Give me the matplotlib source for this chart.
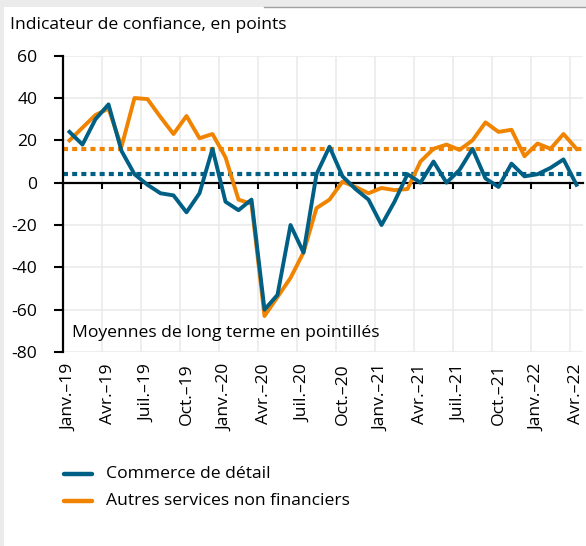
import matplotlib
matplotlib.use('Agg')
import matplotlib.pyplot as plt
import matplotlib.patches as mpatches
import matplotlib.transforms as mtransforms
import numpy as np

plt.rcParams['font.family'] = ['Open Sans', 'DejaVu Sans']
plt.rcParams['axes.unicode_minus'] = False

# Monthly values, Jan 2019 -> Apr 2022
commerce = [24, 18, 30, 37, 15, 4, -1, -5, -6, -14,
            -5, 16, -9, -13, -8, -60, -53, -20, -33, 4,
            17, 3, -3, -8, -20, -9, 4, 0, 10, 0,
            6, 16, 2, -2, 9, 3, 4, 7, 11, -1]
services = [20, 26, 32, 35, 17, 40, 39.5, 31, 23, 31.5,
            21, 23, 12, -8, -10, -63, -54, -45, -33, -12,
            -8, 0.5, -2, -5, -2.5, -3.5, -3, 10, 16, 18,
            15.5, 20, 28.5, 24, 25, 12.5, 18.5, 16, 23, 16]
mean_commerce = 4
mean_services = 16

tick_labels = ['Janv.–19', 'Avr.–19', 'Juil.–19', 'Oct.–19',
               'Janv.–20', 'Avr.–20', 'Juil.–20', 'Oct.–20',
               'Janv.–21', 'Avr.–21', 'Juil.–21', 'Oct.–21',
               'Janv.–22', 'Avr.–22']
series_names = ['Commerce de détail', 'Autres services non financiers']

BLUE = '#005f85'
ORANGE = '#f08300'
FS = 12.6

fig = plt.figure(figsize=(5.86, 5.46), dpi=100, facecolor='#ebebeb')
# white page with grey frame on top/left
fig.patches.append(mpatches.Rectangle((4 / 586, 0), 1, 1 - 7 / 546,
                                      transform=fig.transFigure,
                                      facecolor='white', edgecolor='none', zorder=-5))
fig.add_artist(plt.Line2D([0.45, 1], [1 - 7 / 546, 1 - 7 / 546], color='#a0a0a0', lw=1))

ax = fig.add_axes([63 / 586, 1 - 352 / 546, 520 / 586, (352 - 55.7) / 546])
ax.set_zorder(2)
ax.set_facecolor('none')

x = np.arange(len(commerce))
ax.set_xlim(-0.5, len(commerce) - 0.5)
ax.set_ylim(-80, 60)
ax.set_yticks(range(-80, 61, 20))

bounds = np.arange(-0.5, len(commerce), 3)
ax.set_xticks(bounds)
ax.set_xticklabels([])
ax.spines['bottom'].set_position(('data', 0))
ax.spines['bottom'].set_linewidth(1.6)
ax.spines['left'].set_linewidth(1.6)
ax.spines['top'].set_visible(False)
ax.spines['right'].set_visible(False)
ax.tick_params(axis='x', length=4.5, width=1.5, direction='out')
ax.tick_params(axis='y', length=6.5, width=1.5, pad=12, labelsize=FS)
ax.grid(True, color='#ebebeb', lw=1.2)
ax.set_axisbelow(True)

# long-term means
ax.axhline(mean_services, color=ORANGE, lw=3.0, dashes=(1.2, 1.0), zorder=2)
ax.axhline(mean_commerce, color=BLUE, lw=3.0, dashes=(1.2, 1.0), zorder=2)

ax.plot(x, services, color=ORANGE, lw=2.8, zorder=3, label=series_names[1])
ax.plot(x, commerce, color=BLUE, lw=2.8, zorder=4, label=series_names[0])

# category labels at month centres
xtrans = mtransforms.blended_transform_factory(ax.transData, ax.transAxes)
for pos, lab in zip(x[::3], tick_labels):
    ax.text(pos, -0.04, lab, transform=xtrans, rotation=90, ha='center', va='top',
            fontsize=FS)

ytrans = mtransforms.blended_transform_factory(ax.transAxes, ax.transData)
ax.text(0.017, -71, 'Moyennes de long terme en pointillés', transform=ytrans,
        ha='left', va='center', fontsize=FS)

fig.text(10 / 586, 1 - 25 / 546, 'Indicateur de confiance, en points',
         ha='left', va='center', fontsize=FS)

# legend
for yy, name, col in [(474, series_names[0], BLUE), (501, series_names[1], ORANGE)]:
    fig.add_artist(plt.Line2D([64 / 586, 92 / 586], [1 - yy / 546, 1 - yy / 546],
                              color=col, lw=3.2, solid_capstyle='round'))
    fig.text(106 / 586, 1 - yy / 546, name, ha='left', va='center', fontsize=FS)

fig.savefig('out.png', dpi=100, facecolor=fig.get_facecolor())
